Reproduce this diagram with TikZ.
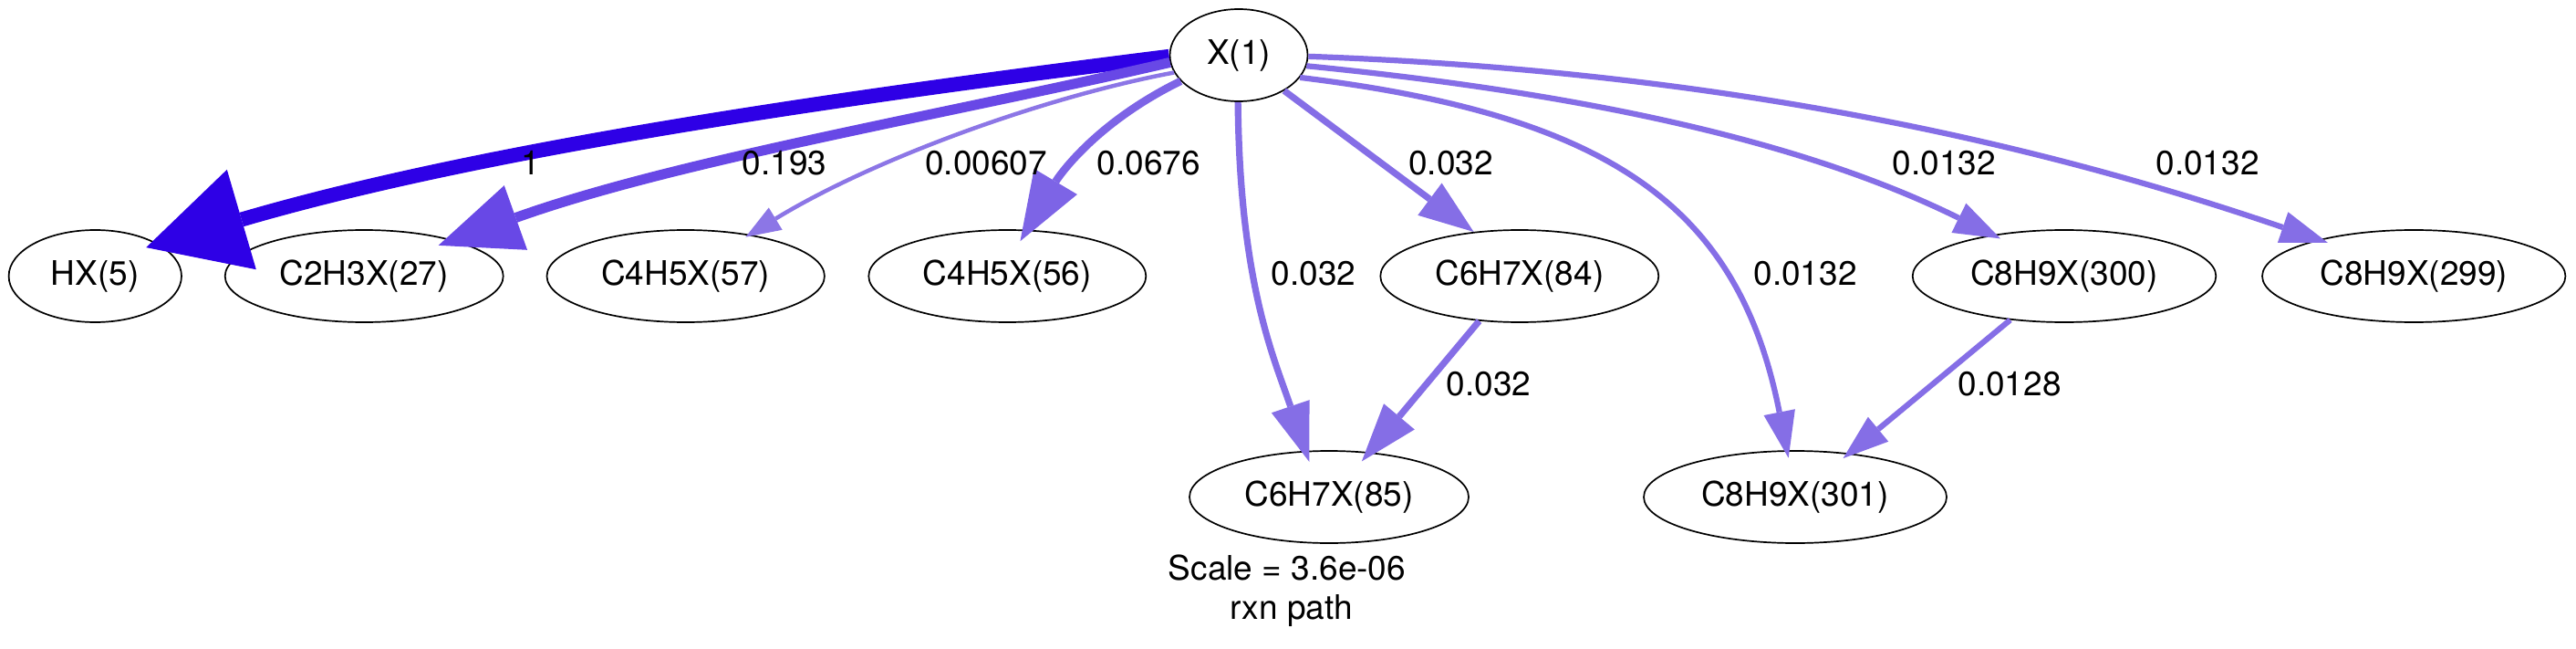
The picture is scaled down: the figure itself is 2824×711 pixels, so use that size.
\documentclass[tikz,border=0pt]{standalone}
\usepackage{fontspec}
\setmainfont{TeX Gyre Heros}
\usetikzlibrary{arrows.meta,shapes.geometric}
\definecolor{cA}{RGB}{46,0,230}
\definecolor{cB}{RGB}{104,72,230}
\definecolor{cC}{RGB}{140,118,230}
\definecolor{cD}{RGB}{125,100,230}
\definecolor{cE}{RGB}{133,110,230}
\begin{document}
\begin{tikzpicture}[x=0.5pt,y=-0.5pt,
  sp/.style={draw=black, line width=0.85pt, ellipse, inner sep=0pt,
    minimum height=50.5pt, font=\fontsize{18.5}{22}\selectfont},
  lbl/.style={inner sep=0pt, font=\fontsize{18.5}{22}\selectfont},
  ed/.style n args={4}{draw=#1, line width=#2,
    -{Triangle[length=#3,width=#4,line width=0pt]}}]
\fill[white] (0,0) rectangle (2824,711);
\useasboundingbox (0,0) rectangle (2824,711);
% nodes
\node[sp, minimum width=75.5pt]  (X)      at (1358,60.5)   {X(1)};
\node[sp, minimum width=94.7pt]  (HX)     at (104.3,302.5) {HX(5)};
\node[sp, minimum width=152.5pt] (C2H3X)  at (399.2,302.5) {C2H3X(27)};
\node[sp, minimum width=152.2pt] (C4H5Xa) at (751.7,302.5) {C4H5X(57)};
\node[sp, minimum width=152pt]   (C4H5Xb) at (1104.3,302.5) {C4H5X(56)};
\node[sp, minimum width=152.5pt] (C6H7Xa) at (1665.8,302.5) {C6H7X(84)};
\node[sp, minimum width=166.3pt] (C8H9Xa) at (2263,302.5)  {C8H9X(300)};
\node[sp, minimum width=166.2pt] (C8H9Xb) at (2646.2,302.5) {C8H9X(299)};
\node[sp, minimum width=153pt]   (C6H7Xb) at (1457,544.5)  {C6H7X(85)};
\node[sp, minimum width=166pt]   (C8H9Xc) at (1968,544.5)  {C8H9X(301)};
% edges
\draw[ed={cA}{8pt}{54.5pt}{57pt}, shorten >=-7pt]
  (X.181) .. controls (913,108) and (530,163) .. (HX.27);
\draw[ed={cB}{5.5pt}{45pt}{37.5pt}, shorten >=-8.7pt]
  (X.186) .. controls (1034,126) and (740,176) .. (C2H3X.22);
\draw[ed={cC}{2.25pt}{19.25pt}{14.25pt}, shorten >=-2.7pt]
  (X.195) .. controls (1150,105) and (961,172) .. (C4H5Xa.33);
\draw[ed={cD}{4.25pt}{38pt}{27.5pt}, shorten >=-7.3pt]
  (X.204) .. controls (1198,136) and (1159,196) .. (C4H5Xb.67);
\draw[ed={cE}{3.6pt}{32pt}{22pt}, shorten >=-6.3pt]
  (X.269) .. controls (1359,311) and (1397,393) .. (C6H7Xb.117);
\draw[ed={cE}{3.6pt}{30pt}{22pt}]
  (X.322) -- (C6H7Xa.136);
\draw[ed={cE}{3.6pt}{32pt}{22pt}, shorten >=-6.6pt]
  (C6H7Xa.228) -- (C6H7Xb.48);
\draw[ed={cE}{3.1pt}{25.5pt}{17.5pt}, shorten >=-4.3pt]
  (X.340) .. controls (1773,127) and (1907,231.5) .. (C8H9Xc.100);
\draw[ed={cE}{3.1pt}{25.5pt}{18pt}, shorten >=-4.8pt]
  (X.351) .. controls (1764,105) and (1992,162) .. (C8H9Xa.150);
\draw[ed={cE}{3.1pt}{26pt}{17.75pt}, shorten >=-5.3pt]
  (X.359) .. controls (1950,80) and (2300,180) .. (C8H9Xb.159);
\draw[ed={cE}{3.1pt}{25pt}{17.5pt}, shorten >=-4.4pt]
  (C8H9Xa.219) -- (C8H9Xc.39);
% edge labels
\node[lbl] (l1)  at (581.7,178.3)  {1};
\node[lbl] (l2)  at (860,178.3)    {0.193};
\node[lbl] (l3)  at (1081,178.3)   {0.00607};
\node[lbl] (l4)  at (1259.5,178.3) {0.0676};
\node[lbl] (l5)  at (1590.5,178.8) {0.032};
\node[lbl] (l6)  at (1440,300)     {0.032};
\node[lbl] (l7)  at (1632,420.7)   {0.032};
\node[lbl] (l8)  at (2131.3,178.3) {0.0132};
\node[lbl] (l9)  at (1979,300)     {0.0132};
\node[lbl] (l10) at (2203,420.3)   {0.0128};
\node[lbl] (l11) at (2420,178.3)   {0.0132};
% caption
\node[lbl, anchor=base] (cap1) at (1411,635)   {Scale = 3.6e-06};
\node[lbl, anchor=base] (cap2) at (1416,678.3) {rxn path};
\end{tikzpicture}
\end{document}
